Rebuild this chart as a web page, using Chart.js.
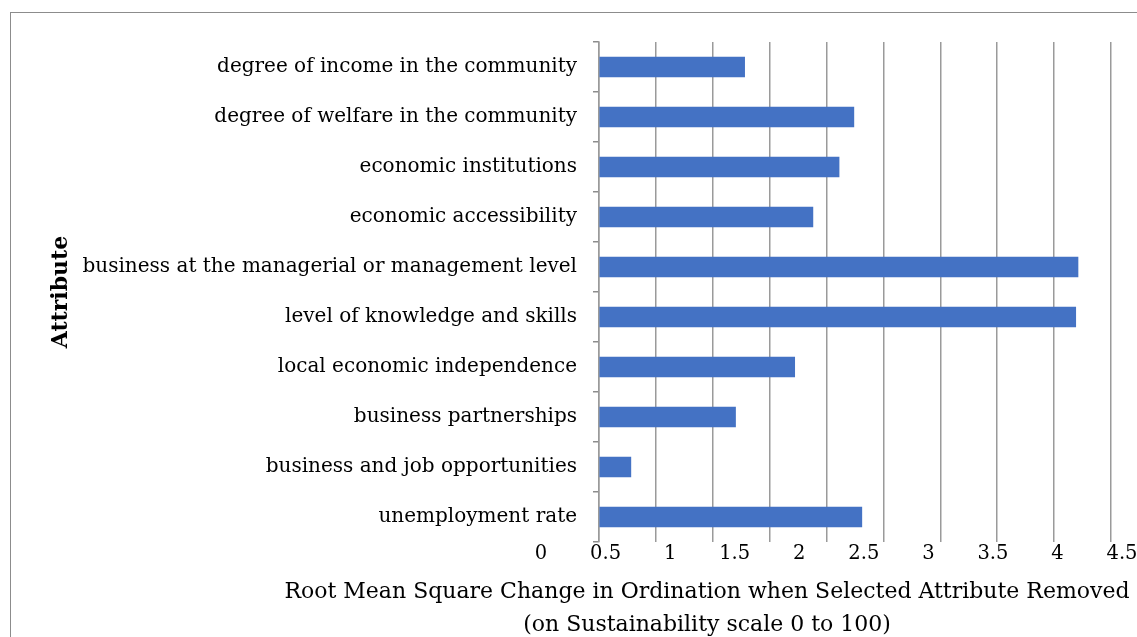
<!DOCTYPE html>
<html>
<head>
<meta charset="utf-8">
<script src="https://cdn.jsdelivr.net/npm/chart.js@4.4.1/dist/chart.umd.min.js"></script>
<style>
  html, body { margin: 0; padding: 0; background: #fff; }
  #wrap { position: relative; width: 1137px; height: 637px; }
  #frame { position: absolute; left: 10px; top: 12px; right: -5px; bottom: -5px; border: 1px solid #8c8c8c; }
  canvas { position: absolute; left: 0; top: 0; }
</style>
</head>
<body>
<div id="wrap">
  <div id="frame"></div>
  <canvas id="rmsChart" width="1137" height="637"></canvas>
</div>
<script>
const attributes = [
  "degree of income in the community",
  "degree of welfare in the community",
  "economic institutions",
  "economic accessibility",
  "business at the managerial or management level",
  "level of knowledge and skills",
  "local economic independence",
  "business partnerships",
  "business and job opportunities",
  "unemployment rate"
];
const rmsChange = [1.28, 2.24, 2.11, 1.88, 4.21, 4.19, 1.72, 1.20, 0.28, 2.31];
const xTicks = [0, 0.5, 1, 1.5, 2, 2.5, 3, 3.5, 4, 4.5];
const xTitle = [
  "Root Mean Square Change in Ordination when Selected Attribute Removed",
  "(on Sustainability scale 0 to 100)"
];

const serif = "'DejaVu Serif', 'Liberation Serif', serif";

// x tick labels and the two-line x title are laid out by hand under the plot
const bottomText = {
  id: "bottomText",
  afterDraw(chart) {
    const { ctx } = chart;
    const x = chart.scales.x;
    const spanLeft = x.left - 58;
    const spanWidth = x.width + 69;
    ctx.save();
    ctx.fillStyle = "#000";
    ctx.textBaseline = "middle";
    ctx.textAlign = "center";
    ctx.font = "19.5px " + serif;
    xTicks.forEach(v => {
      const px = spanLeft + (v - x.min) / (x.max - x.min) * spanWidth;
      ctx.fillText(String(v), px, x.top + 12);
    });
    ctx.font = "22px " + serif;
    ctx.fillText(xTitle[0], 707, x.top + 50);
    ctx.fillText(xTitle[1], 707, x.top + 83);
    ctx.restore();
  }
};

new Chart(document.getElementById("rmsChart"), {
  type: "bar",
  data: {
    labels: attributes,
    datasets: [{
      data: rmsChange,
      backgroundColor: "#4472C4",
      barThickness: 20
    }]
  },
  options: {
    indexAxis: "y",
    responsive: false,
    animation: false,
    layout: { padding: { top: 42, right: 26, left: 0, bottom: 0 } },
    plugins: {
      legend: { display: false },
      tooltip: { enabled: false }
    },
    scales: {
      x: {
        min: 0,
        max: 4.5,
        ticks: { stepSize: 0.5, display: false },
        grid: { color: "#9a9a9a", lineWidth: 1.5, drawTicks: false },
        border: { display: false },
        afterFit: scale => { scale.height = 95; }
      },
      y: {
        ticks: {
          color: "#000",
          padding: 16,
          font: { family: serif, size: 20 }
        },
        grid: {
          offset: true,
          drawOnChartArea: false,
          tickLength: 6,
          color: "#8c8c8c",
          lineWidth: 1.5
        },
        border: { color: "#9a9a9a", width: 1.5 },
        title: {
          display: true,
          text: "Attribute",
          color: "#000",
          padding: { top: 48 },
          font: { family: serif, size: 22, weight: "bold" }
        },
        afterFit: scale => { scale.width = 599; }
      }
    }
  },
  plugins: [bottomText]
});
</script>
</body>
</html>
